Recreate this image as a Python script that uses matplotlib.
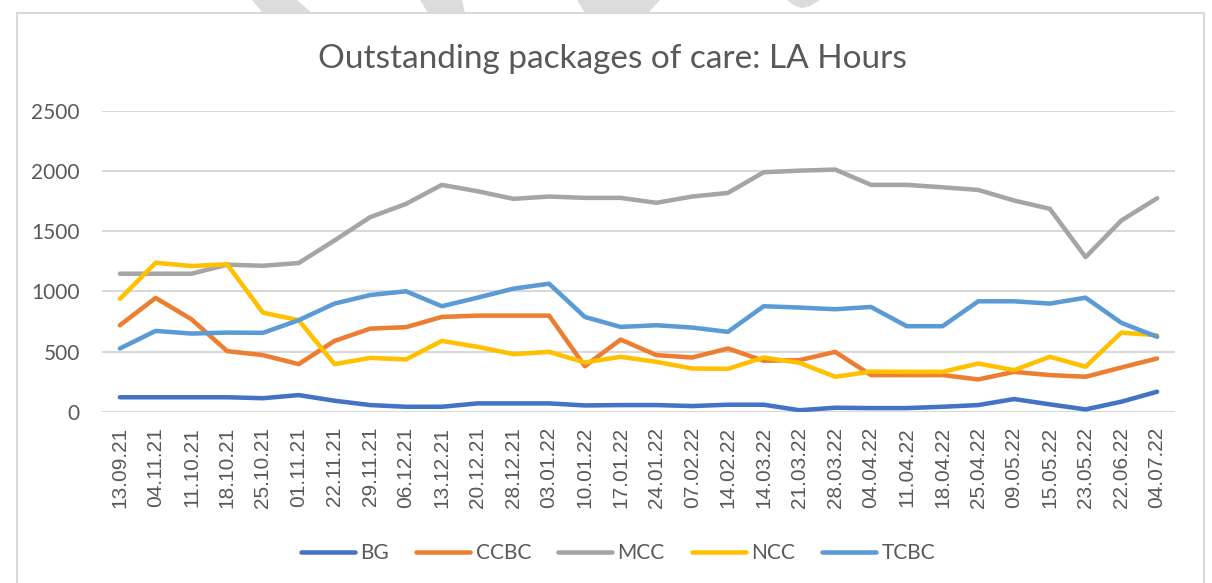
import matplotlib
matplotlib.use("Agg")
import matplotlib.pyplot as plt
from matplotlib.patches import Polygon
from matplotlib.lines import Line2D

dates = ["13.09.21", "04.11.21", "11.10.21", "18.10.21", "25.10.21", "01.11.21",
         "22.11.21", "29.11.21", "06.12.21", "13.12.21", "20.12.21", "28.12.21",
         "03.01.22", "10.01.22", "17.01.22", "24.01.22", "07.02.22", "14.02.22",
         "14.03.22", "21.03.22", "28.03.22", "04.04.22", "11.04.22", "18.04.22",
         "25.04.22", "09.05.22", "15.05.22", "23.05.22", "22.06.22", "04.07.22"]

bg = [120, 120, 120, 120, 112, 138, 91, 55, 41, 41, 69, 69, 69, 52, 55,
      55, 47, 58, 58, 12, 33, 30, 30, 41, 55, 105, 61, 19, 83, 166]
ccbc = [718, 945, 768, 503, 470, 395, 588, 690, 702, 787, 798, 798, 798, 378, 599,
        470, 450, 525, 423, 428, 497, 304, 304, 304, 268, 331, 304, 290, 367, 442]
mcc = [1146, 1146, 1146, 1221, 1212, 1235, 1422, 1616, 1726, 1884, 1831, 1768, 1787, 1776, 1776,
       1735, 1787, 1817, 1989, 2002, 2011, 1884, 1884, 1864, 1842, 1754, 1685, 1284, 1588, 1773]
ncc = [936, 1237, 1210, 1224, 823, 760, 395, 447, 434, 588, 539, 478, 497, 409, 456,
       414, 359, 356, 450, 406, 290, 333, 331, 331, 400, 345, 456, 373, 657, 635]
tcbc = [525, 671, 649, 657, 655, 760, 898, 969, 1000, 876, 947, 1022, 1063, 787, 704,
        718, 699, 663, 876, 865, 851, 870, 710, 710, 917, 917, 898, 947, 738, 622]

names = ["BG", "CCBC", "MCC", "NCC", "TCBC"]
colors = ["#4472C4", "#ED7D31", "#A5A5A5", "#FFC000", "#5B9BD5"]

W, H = 1212, 583
fig = plt.figure(figsize=(W / 100, H / 100), dpi=100)
fig.patch.set_facecolor("white")

# plot area in pixels
left, right, top, bottom = 102, 1175, 110.7, 411.7
ax = fig.add_axes([left / W, 1 - bottom / H, (right - left) / W, (bottom - top) / H])

x = list(range(len(dates)))
for vals, name, c in zip([bg, ccbc, mcc, ncc, tcbc], names, colors):
    ax.plot(x, vals, color=c, lw=3.25, label=name,
            solid_capstyle="round", solid_joinstyle="round")

ax.set_xlim(-0.5, len(dates) - 0.5)
ax.set_ylim(0, 2500)
ax.set_yticks(range(0, 2501, 500))
ax.set_xticks(x)
ax.set_xticklabels(dates, rotation=90, family="Liberation Sans", fontsize=15, color="#595959")
for lab in ax.get_yticklabels():
    lab.set_family("Lato")
    lab.set_fontsize(15)
    lab.set_color("#595959")
ax.tick_params(axis="x", length=0, pad=11)
ax.tick_params(axis="y", length=0, pad=16)
ax.grid(axis="y", color="#D9D9D9", lw=1.5)
ax.set_axisbelow(True)
for s in ax.spines.values():
    s.set_visible(False)

fig.text(612 / W, 1 - 59 / H, "Outstanding packages of care: LA Hours",
         ha="center", va="center", fontsize=24, family="Lato", color="#595959")

handles = [Line2D([], [], color=c, lw=3.25, solid_capstyle="round") for c in colors]
fig.legend(handles, names, loc="center", bbox_to_anchor=(618 / W, 1 - 553 / H),
           ncol=5, frameon=False, handlelength=2.6, handletextpad=0.25,
           columnspacing=1.3, prop={"family": "Lato", "size": 15}, labelcolor="#595959")

# chart border
def px(xp, yp):
    return (xp / W, 1 - yp / H)

fig.add_artist(Line2D([17 / W, 17 / W, 1204 / W, 1204 / W],
                      [0, 1 - 13 / H, 1 - 13 / H, 0],
                      transform=fig.transFigure, color="#D9D9D9", lw=1.5))

# faint watermark fragments at the top
stripes = [
    [(252, 0), (297, 0), (312, 13), (263, 13)],
    [(420, 0), (462, 0), (465, 13), (428, 13)],
    [(577, 0), (660, 0), (648, 13), (585, 13)],
    [(787, 0), (820, 0), (810, 6), (802, 8), (795, 6)],
]
for pts in stripes:
    fig.add_artist(Polygon([px(*p) for p in pts], closed=True,
                           transform=fig.transFigure, color="#DCDCDC", lw=0))

fig.savefig("out.png", dpi=100)
